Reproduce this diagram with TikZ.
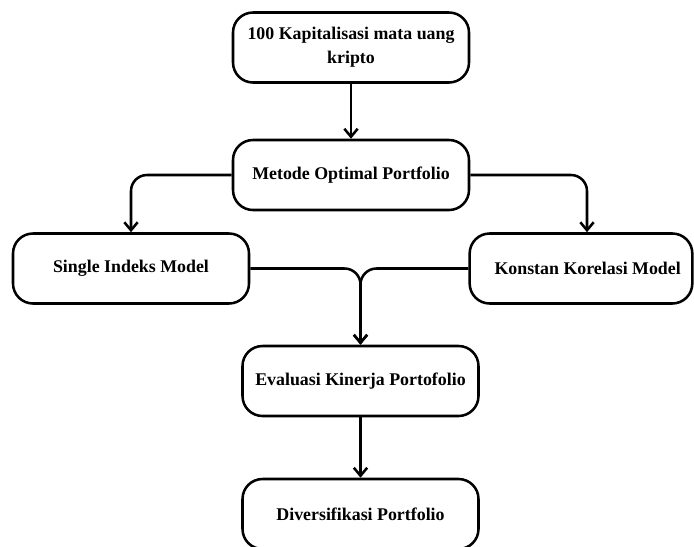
\documentclass[tikz,border=0pt]{standalone}
\usepackage{fontspec}
\setmainfont{Liberation Serif}
\usetikzlibrary{positioning,arrows.meta}

\tikzset{
    box/.style={draw, line width=1.9pt, rounded corners=15pt,
        minimum width=177pt, minimum height=52.5pt, inner xsep=2pt,
        align=center, font=\fontsize{13.4}{18}\selectfont\bfseries},
    link/.style={line width=1.9pt, rounded corners=12pt},
    arrow/.style={link, -{Straight Barb[length=6pt,width=10pt]}}
}

\begin{document}
\begin{tikzpicture}[x=0.75pt,y=-0.75pt]
        \useasboundingbox (0,0) rectangle (694,547);
        \node[box] (kripto) at (351,47.5) {100 Kapitalisasi mata uang\\kripto};
        \node[box] (metode) at (351,175) {Metode Optimal Portfolio};
        \node[box] (single_indeks) at (131,268.5) {Single Indeks Model};
        \node[box, minimum width=167pt] (konstan_korelasi) at (581,268.5) {\hspace*{10pt}Konstan Korelasi Model};
        \coordinate (konstan_top) at ([xshift=4.5pt]konstan_korelasi.north);
        \node[box] (evaluasi) at (360.5,381) {Evaluasi Kinerja Portofolio};
        \node[box] (diversifikasi) at (360.5,514) {Diversifikasi Portfolio};
        \draw [arrow] (kripto) -- (metode);
        \draw [arrow] (metode.west) -| (single_indeks.north);
        \draw [arrow] (metode.east) -| (konstan_top);
        \draw [arrow] (single_indeks.east) -| (evaluasi.north);
        \draw [arrow] (konstan_korelasi.west) -| (evaluasi.north);
        \draw [arrow] (evaluasi) -- (diversifikasi);
    \end{tikzpicture}
\end{document}
